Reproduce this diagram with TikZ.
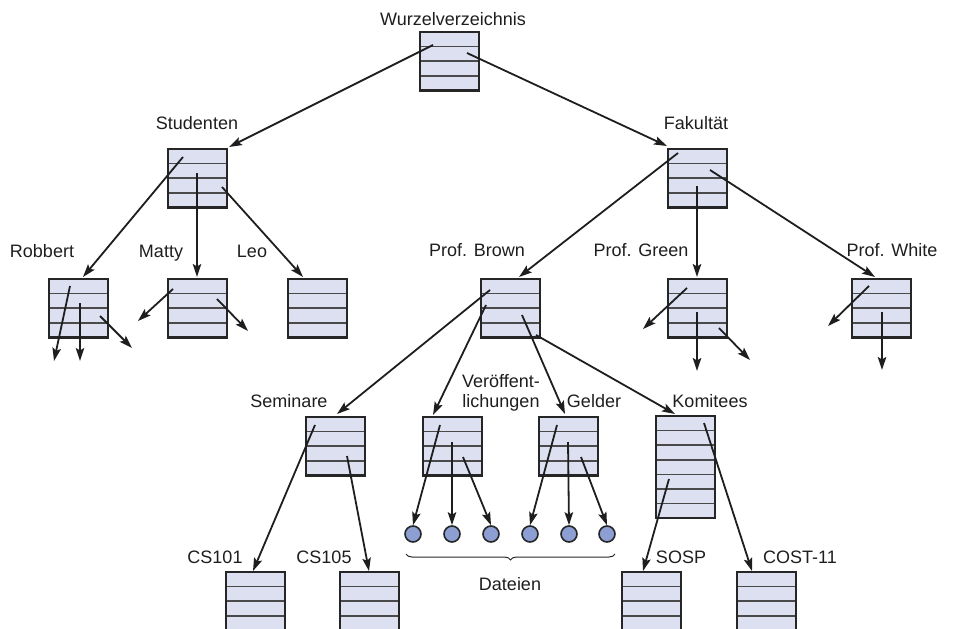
\documentclass[tikz,border=0pt]{standalone}
\usepackage{fontspec}
\setmainfont{Liberation Sans}
\usetikzlibrary{arrows.meta,decorations.pathreplacing}

\definecolor{boxfill}{HTML}{DCE0F1}
\definecolor{filefill}{HTML}{8D9ED2}
\definecolor{framecol}{HTML}{262626}
\definecolor{rowcol}{HTML}{4A4A4A}
\definecolor{inkcol}{HTML}{1E1E1E}

\tikzset{
  dirfill/.style={fill=boxfill, draw=none, minimum width=59pt, inner sep=0pt, outer sep=0pt, anchor=north west},
  rowline/.style={draw=rowcol, line width=1.7pt},
  boxframe/.style={draw=framecol, line width=2.2pt},
  arr/.style={draw=inkcol, line width=1.8pt, -{Stealth[length=13pt,width=8.5pt,inset=2.5pt]}},
  lbl/.style={font=\fontsize{18}{21}\selectfont, text=inkcol, inner sep=0pt, anchor=base},
  filenode/.style={circle, fill=filefill, draw=framecol, line width=1.6pt, minimum size=16pt, inner sep=0pt},
}

% directory block: name, left x, top y, number of entries
\newcommand\dirbox[4]{%
  \node[dirfill, minimum height=#4*14.6pt] (#1) at (#2,#3) {};
  \pgfmathtruncatemacro\lastrow{#4-1}%
  \foreach \k in {1,...,\lastrow}
    \draw[rowline] ([yshift=-\k*14.6pt]#1.north west) -- ([yshift=-\k*14.6pt]#1.north east);
  \draw[boxframe] (#1.north west) rectangle (#1.south east);
}

\begin{document}
\begin{tikzpicture}[x=1pt,y=-1pt]
\useasboundingbox (0,0) rectangle (956,629);
\clip (0,0) rectangle (956,629);

% directories
\dirbox{root}{420}{32}{4}
\dirbox{stud}{168}{149}{4}
\dirbox{fak}{668}{149}{4}
\dirbox{robbert}{49}{279}{4}
\dirbox{matty}{168}{279}{4}
\dirbox{leo}{288}{279}{4}
\dirbox{brown}{481}{279}{4}
\dirbox{green}{668}{279}{4}
\dirbox{white}{852}{279}{4}
\dirbox{sem}{306}{417}{4}
\dirbox{ver}{423}{417}{4}
\dirbox{geld}{539}{417}{4}
\dirbox{kom}{656}{416}{7}
\dirbox{cs101}{226}{572}{5}
\dirbox{cs105}{340}{572}{5}
\dirbox{sosp}{622}{572}{5}
\dirbox{cost}{737}{572}{5}

% files
\foreach \i/\x in {1/413,2/452,3/491,4/530,5/569,6/607}
  \node[filenode] (f\i) at (\x,534) {};

% labels
\node[lbl] (l-root) at (453,25) {Wurzelverzeichnis};
\node[lbl] (l-stud) at (197,129) {Studenten};
\node[lbl] (l-fak) at (696,129) {Fakultät};
\node[lbl] (l-rob) at (42,257) {Robbert};
\node[lbl] (l-mat) at (161,257) {Matty};
\node[lbl] (l-leo) at (252,257) {Leo};
\node[lbl] (l-brown) at (477,256) {Prof. Brown};
\node[lbl] (l-green) at (641,256) {Prof. Green};
\node[lbl] (l-white) at (892,256) {Prof. White};
\node[lbl] (l-sem) at (289,407) {Seminare};
\node[lbl] (l-ver1) at (501,387) {Veröffent-};
\node[lbl] (l-ver2) at (501,407) {lichungen};
\node[lbl] (l-geld) at (594,407) {Gelder};
\node[lbl] (l-kom) at (710,407) {Komitees};
\node[lbl] (l-cs101) at (215,563) {CS101};
\node[lbl] (l-cs105) at (324,563) {CS105};
\node[lbl] (l-sosp) at (681,563) {SOSP};
\node[lbl] (l-cost) at (800,563) {COST-11};
\node[lbl] (l-dat) at (510,590) {Dateien};

% entry points inside the directories
\coordinate (root-a) at (433,45);
\coordinate (root-b) at (467,53);
\coordinate (stud-a) at (183,157);
\coordinate (stud-b) at (197,173);
\coordinate (stud-c) at (222,187);
\coordinate (fak-a) at (678,153);
\coordinate (fak-b) at (697,186);
\coordinate (fak-c) at (710,170);
\coordinate (rob-a) at (70,286);
\coordinate (rob-b) at (80,303);
\coordinate (rob-c) at (100,316);
\coordinate (mat-a) at (173,289);
\coordinate (mat-b) at (217,299);
\coordinate (green-a) at (687,288);
\coordinate (green-b) at (697,312);
\coordinate (green-c) at (719,328);
\coordinate (white-a) at (869,286);
\coordinate (white-b) at (882,312);
\coordinate (brown-a) at (490,290);
\coordinate (brown-b) at (486,305);
\coordinate (brown-c) at (522,315);
\coordinate (brown-d) at (536,335);
\coordinate (sem-a) at (315,425);
\coordinate (sem-b) at (347,456);
\coordinate (ver-a) at (440,425);
\coordinate (ver-b) at (452,442);
\coordinate (ver-c) at (463,457);
\coordinate (geld-a) at (557,425);
\coordinate (geld-b) at (568,442);
\coordinate (geld-c) at (581,457);
\coordinate (kom-a) at (704,423);
\coordinate (kom-b) at (669,479);

% arrow targets
\coordinate (stud-in) at (229,147);
\coordinate (fak-in) at (667,146);
\coordinate (rob-in) at (83,277);
\coordinate (mat-in) at (197,277);
\coordinate (leo-in) at (303,277);
\coordinate (brown-in) at (519,277);
\coordinate (green-in) at (697,277);
\coordinate (white-in) at (875,277);
\coordinate (sem-in) at (337,414);
\coordinate (ver-in) at (433,415);
\coordinate (geld-in) at (565,414);
\coordinate (kom-in) at (675,414);
\coordinate (cs101-in) at (253,571);
\coordinate (cs105-in) at (369,571);
\coordinate (sosp-in) at (643,571);
\coordinate (cost-in) at (752,571);

% loose ends (directories not shown)
\coordinate (rob-x1) at (54,361);
\coordinate (rob-x2) at (80,361);
\coordinate (rob-x3) at (132,348);
\coordinate (mat-x1) at (138,321);
\coordinate (mat-x2) at (248,331);
\coordinate (green-x1) at (643,329);
\coordinate (green-x2) at (697,371);
\coordinate (green-x3) at (750,360);
\coordinate (white-x1) at (828,326);
\coordinate (white-x2) at (882,370);

% connectors
\draw[arr] (root-a) -- (stud-in);
\draw[arr] (root-b) -- (fak-in);
\draw[arr] (stud-a) -- (rob-in);
\draw[arr] (stud-b) -- (mat-in);
\draw[arr] (stud-c) -- (leo-in);
\draw[arr] (fak-a) -- (brown-in);
\draw[arr] (fak-b) -- (green-in);
\draw[arr] (fak-c) -- (white-in);

\draw[arr] (rob-a) -- (rob-x1);
\draw[arr] (rob-b) -- (rob-x2);
\draw[arr] (rob-c) -- (rob-x3);
\draw[arr] (mat-a) -- (mat-x1);
\draw[arr] (mat-b) -- (mat-x2);
\draw[arr] (green-a) -- (green-x1);
\draw[arr] (green-b) -- (green-x2);
\draw[arr] (green-c) -- (green-x3);
\draw[arr] (white-a) -- (white-x1);
\draw[arr] (white-b) -- (white-x2);

\draw[arr] (brown-a) -- (sem-in);
\draw[arr] (brown-b) -- (ver-in);
\draw[arr] (brown-c) -- (geld-in);
\draw[arr] (brown-d) -- (kom-in);

\draw[arr] (sem-a) -- (cs101-in);
\draw[arr] (sem-b) -- (cs105-in);
\draw[arr] (ver-a) -- (f1.north);
\draw[arr] (ver-b) -- (f2.north);
\draw[arr] (ver-c) -- (f3.north);
\draw[arr] (geld-a) -- (f4.north);
\draw[arr] (geld-b) -- (f5.north);
\draw[arr] (geld-c) -- (f6.north);
\draw[arr] (kom-a) -- (cost-in);
\draw[arr] (kom-b) -- (sosp-in);

% the files taken together
\coordinate (br-l) at (406,554);
\coordinate (br-r) at (615,554);
\draw[draw=framecol, line width=1pt, decorate, decoration={brace, mirror, amplitude=6pt}] (br-l) -- (br-r);
\end{tikzpicture}
\end{document}
